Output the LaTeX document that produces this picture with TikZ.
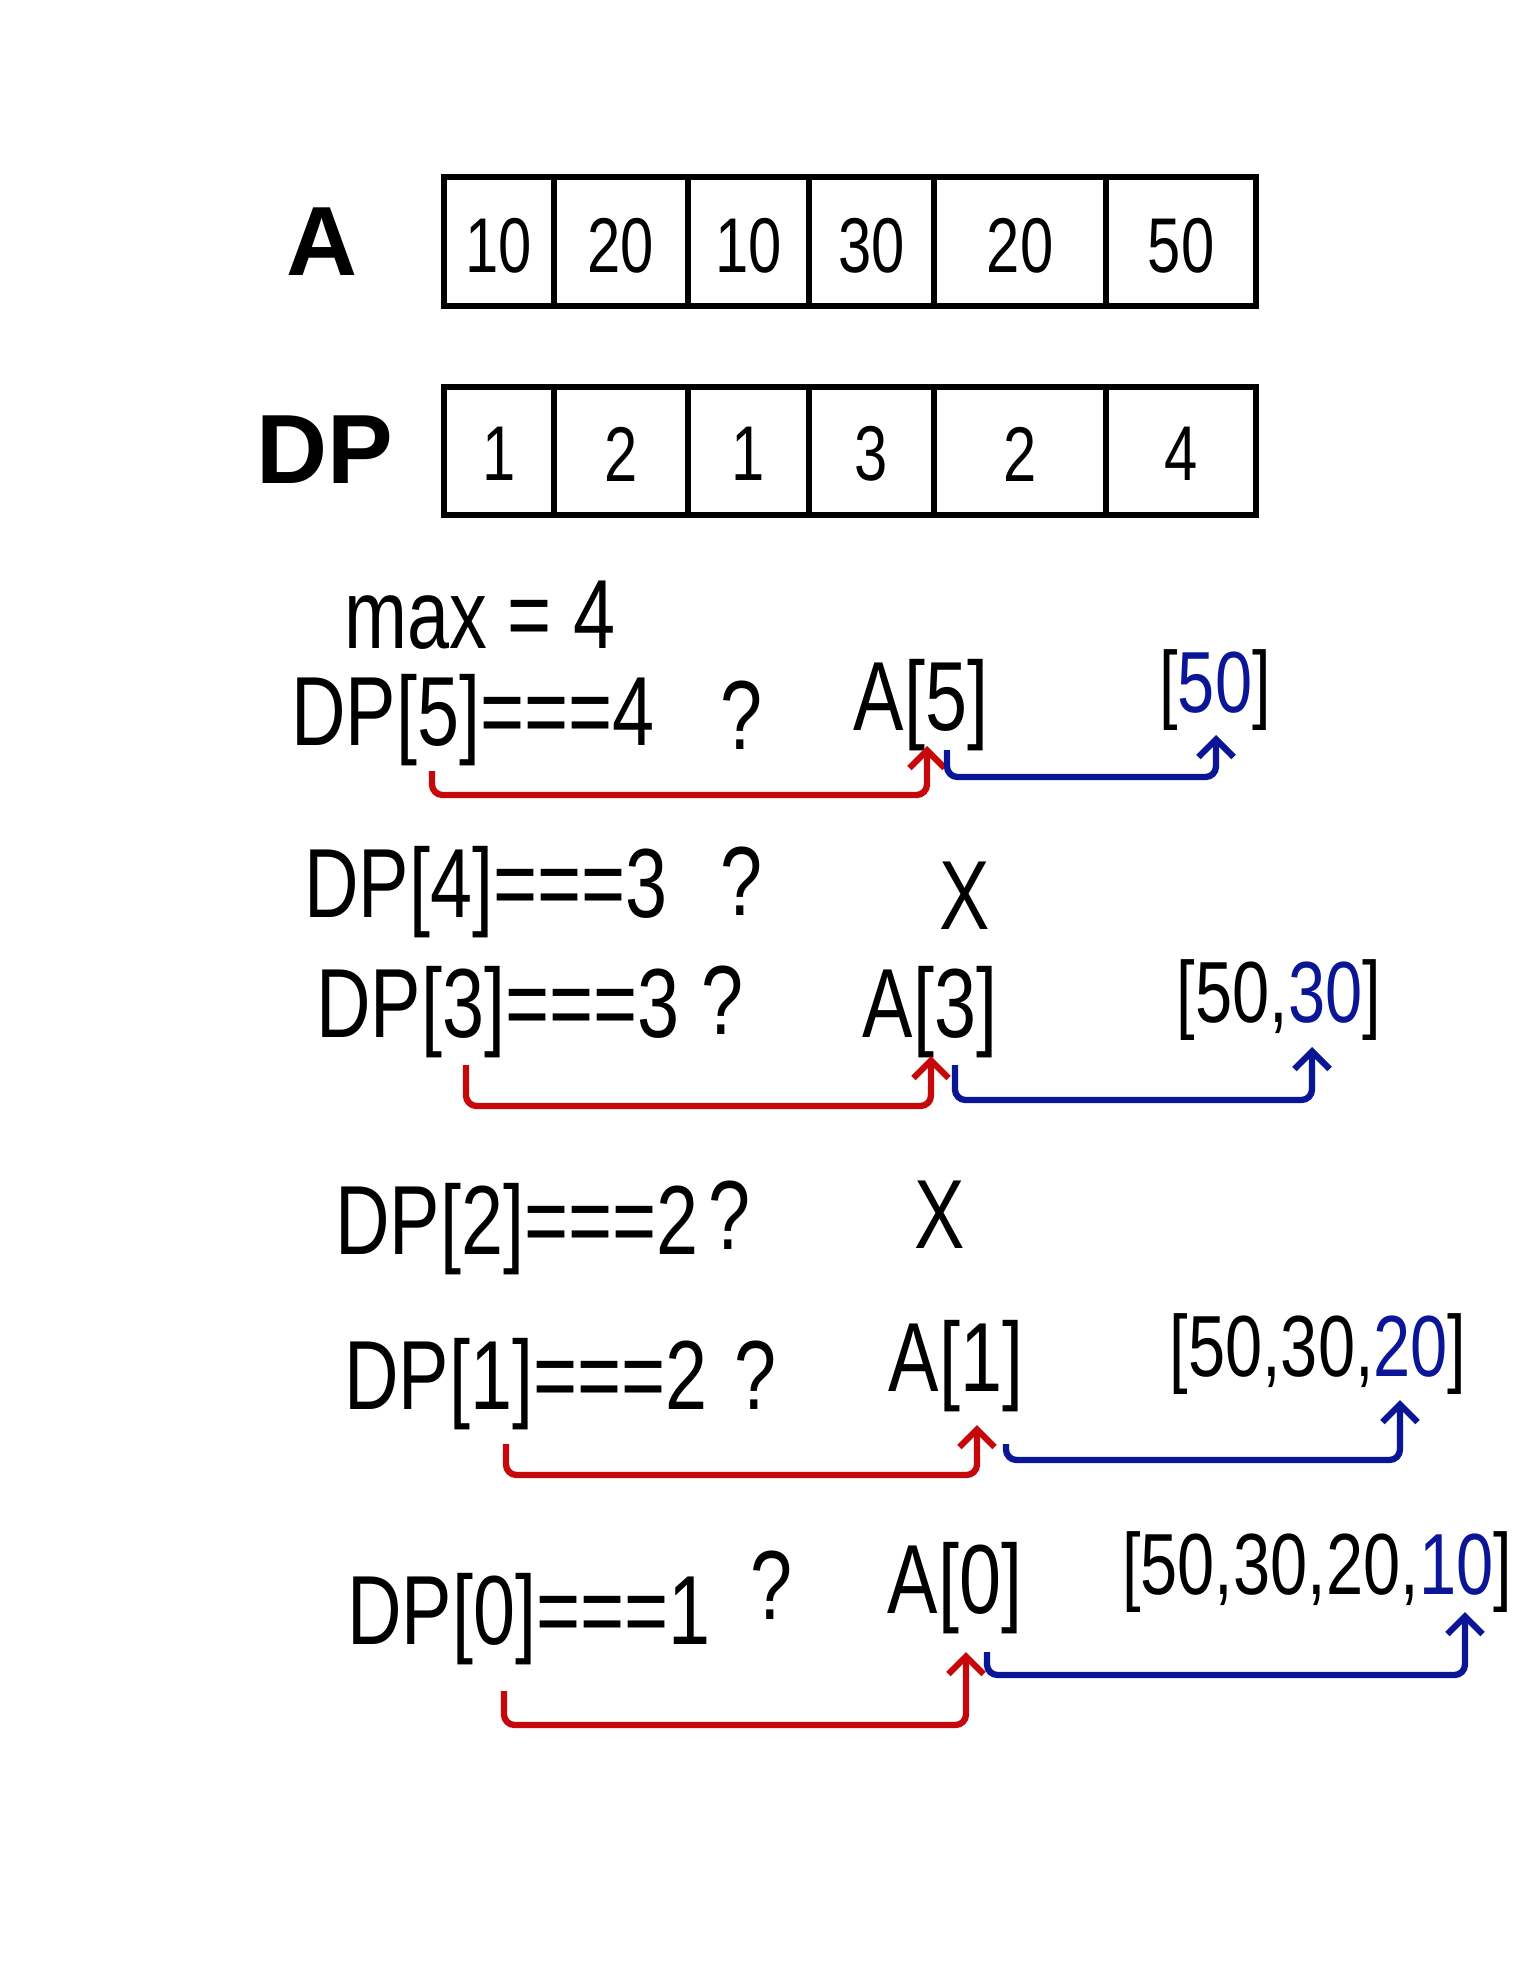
\documentclass[tikz,border=0pt]{standalone}
\usepackage{fontspec}
\setmainfont{Liberation Sans}
\usepackage{tikz}
\usetikzlibrary{arrows.meta}
\definecolor{penred}{RGB}{198,8,10}
\definecolor{penblue}{RGB}{10,22,150}

\begin{document}
\begin{tikzpicture}[
  x=0.02cm, y=-0.02cm,
  hand/.style={font=\fontsize{43}{50}\selectfont, yscale=1.3, inner sep=0pt},
  list/.style={hand, font=\fontsize{38}{44}\selectfont},
  cell/.style={hand, font=\fontsize{34}{40}\selectfont},
  big/.style={font=\fontsize{56}{60}\selectfont\bfseries, inner sep=0pt},
  cellline/.style={line width=3.4pt},
  redpen/.style={draw=penred, line width=3.6pt, rounded corners=6pt, -{Straight Barb[length=10pt,width=20pt]}},
  bluepen/.style={draw=penblue, line width=3.6pt, rounded corners=6pt, -{Straight Barb[length=10pt,width=20pt]}},
  >=Stealth
]
\useasboundingbox (0,0) rectangle (1537,1961);

% arrays
\node[big] (alabel) at (322,242) {A};
\node[big] (dplabel) at (325,450) {DP};
\foreach \l/\r/\va/\vd [count=\i from 0] in {444/554/10/1, 554/688/20/2, 688/809/10/1, 809/934/30/3, 934/1106/20/2, 1106/1256/50/4} {
  \draw[cellline] (\l,177) rectangle (\r,306);
  \draw[cellline] (\l,387) rectangle (\r,515);
  \node[cell] (acell\i) at ({(\l+\r)/2},246) {\va};
  \node[cell] (dcell\i) at ({(\l+\r)/2},454) {\vd};
}

\node[hand, anchor=west] (maxv) at (344,615) {max = 4};

% DP[5]
\node[hand, anchor=west] (dp5) at (291,720) {DP[5]===4};
\node[hand] (q5) at (741,715) {?};
\node[hand] (a5) at (921,705) {A[5]};
\node[list] (res5) at (1215,690) {[\textcolor{penblue}{50}]};
\coordinate (r5a) at (432,771);
\coordinate (r5b) at (927,746);
\coordinate (b5a) at (947,750);
\coordinate (b5b) at (1216,735);
\draw[redpen] (r5a) -- ++(0,24) -| (r5b);
\draw[bluepen] (b5a) -- ++(0,27) -| (b5b);

% DP[4]
\node[hand, anchor=west] (dp4) at (304,892) {DP[4]===3};
\node[hand] (q4) at (741,881) {?};
\node[hand] (x4) at (965,896) {X};

% DP[3]
\node[hand, anchor=west] (dp3) at (316,1012) {DP[3]===3};
\node[hand] (q3) at (722,1000) {?};
\node[hand] (a3) at (930,1012) {A[3]};
\node[list] (res3) at (1279,1000) {[50,\textcolor{penblue}{30}]};
\coordinate (r3a) at (466,1065);
\coordinate (r3b) at (931,1056);
\coordinate (b3a) at (955,1065);
\coordinate (b3b) at (1312,1047);
\draw[redpen] (r3a) -- ++(0,41) -| (r3b);
\draw[bluepen] (b3a) -- ++(0,35) -| (b3b);

% DP[2]
\node[hand, anchor=west] (dp2) at (335,1229) {DP[2]===2};
\node[hand] (q2) at (729,1215) {?};
\node[hand] (x2) at (940,1215) {X};

% DP[1]
\node[hand, anchor=west] (dp1) at (344,1384) {DP[1]===2};
\node[hand] (q1) at (756,1375) {?};
\node[hand] (a1) at (956,1366) {A[1]};
\node[list] (res1) at (1318,1354) {[50,30,\textcolor{penblue}{20}]};
\coordinate (r1a) at (506,1444);
\coordinate (r1b) at (977,1425);
\coordinate (b1a) at (1006,1444);
\coordinate (b1b) at (1400,1400);
\draw[redpen] (r1a) -- ++(0,31) -| (r1b);
\draw[bluepen] (b1a) -- ++(0,16) -| (b1b);

% DP[0]
\node[hand, anchor=west] (dp0) at (347,1619) {DP[0]===1};
\node[hand] (q0) at (771,1585) {?};
\node[hand] (a0) at (955,1588) {A[0]};
\node[list] (res0) at (1317,1572) {[50,30,20,\textcolor{penblue}{10}]};
\coordinate (r0a) at (504,1691);
\coordinate (r0b) at (966,1652);
\coordinate (b0a) at (987,1652);
\coordinate (b0b) at (1465,1612);
\draw[redpen] (r0a) -- ++(0,34) -| (r0b);
\draw[bluepen] (b0a) -- ++(0,23) -| (b0b);
\end{tikzpicture}
\end{document}
